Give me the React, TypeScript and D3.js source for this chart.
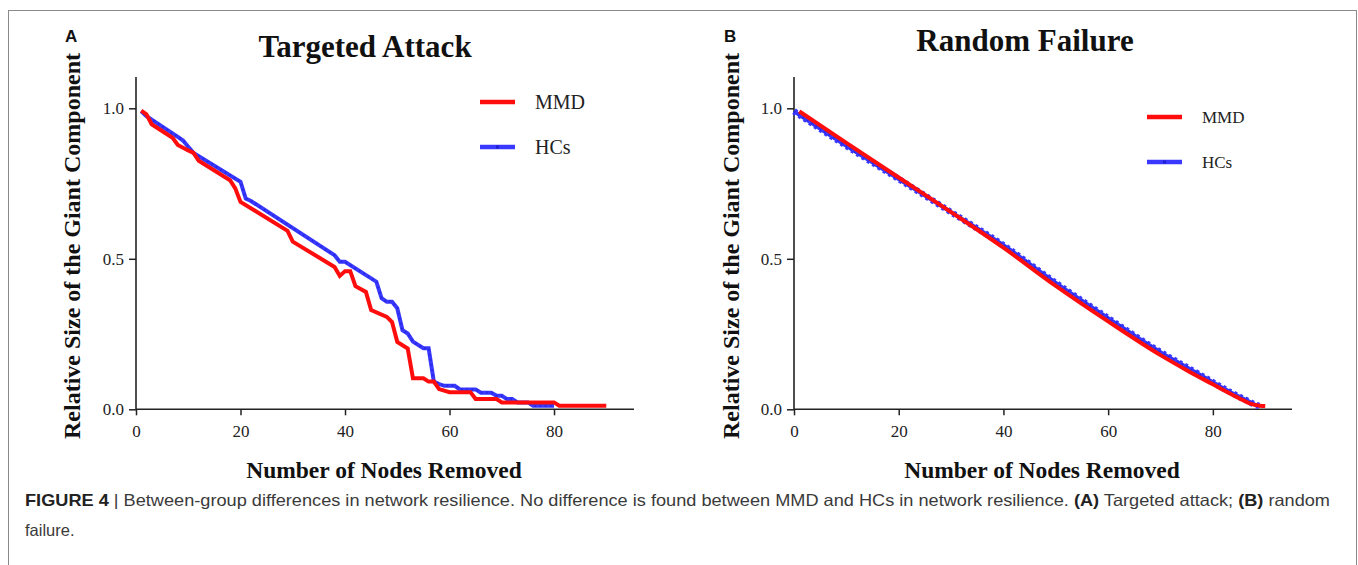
import React, { useEffect, useRef } from 'react';
import * as d3 from 'd3';

// ---------- data ----------
const xTicks = [0, 20, 40, 60, 80];
const yTicks = [0, 0.5, 1.0];
const seriesNames = ['MMD', 'HCs'];

// Panel A: Targeted Attack  [nodes removed, relative size]
const attackMMD: [number, number][] = [
  [1, 0.992], [2, 0.98], [3, 0.947], [7, 0.902], [8, 0.878], [10, 0.86], [11, 0.852], [12, 0.826],
  [18, 0.761], [19, 0.734], [20, 0.689], [29, 0.593], [30, 0.557], [38, 0.473], [39, 0.443],
  [40, 0.459], [41, 0.459], [42, 0.409], [44, 0.39], [45, 0.33], [48, 0.307], [49, 0.29],
  [50, 0.224], [52, 0.202], [53, 0.103], [55, 0.103], [56, 0.092], [57, 0.092], [58, 0.067],
  [60, 0.057], [64, 0.057], [65, 0.034], [69, 0.034], [70, 0.023], [80, 0.023], [81, 0.012], [90, 0.012],
];
const attackHCs: [number, number][] = [
  [1, 0.99], [2, 0.974], [8, 0.905], [9, 0.893], [10, 0.872], [11, 0.852], [20, 0.756], [21, 0.7],
  [22, 0.692], [38, 0.512], [39, 0.49], [40, 0.49], [46, 0.424], [47, 0.369], [48, 0.357],
  [49, 0.357], [50, 0.336], [51, 0.263], [52, 0.252], [53, 0.225], [55, 0.203], [56, 0.203],
  [57, 0.092], [58, 0.084], [59, 0.078], [61, 0.078], [62, 0.066], [65, 0.066], [66, 0.055],
  [68, 0.055], [69, 0.045], [70, 0.045], [71, 0.034], [72, 0.034], [73, 0.023], [75, 0.023],
  [76, 0.012], [80, 0.012],
];

// Panel B: Random Failure
const randomMMD: [number, number][] = [
  [1, 0.99], [10, 0.885], [20, 0.77], [30, 0.655], [40, 0.537], [50, 0.41], [60, 0.292],
  [70, 0.18], [75, 0.13], [80, 0.083], [83, 0.055], [85, 0.037], [87, 0.02], [89, 0.012], [90, 0.011],
];
const randomHCs: [number, number][] = [
  [0, 0.99], [10, 0.875], [20, 0.765], [30, 0.655], [40, 0.545], [50, 0.42], [60, 0.303],
  [70, 0.19], [75, 0.14], [80, 0.09], [83, 0.06], [85, 0.042], [87, 0.025], [88, 0.016], [89, 0.011],
];

const RED = '#ff0d0d';
const BLUE = '#3838ff';
const DARKBLUE = '#1f1fd0';
const SERIF = '"Liberation Serif", "Times New Roman", serif';
const SANS = '"Liberation Sans", Arial, sans-serif';

type Panel = {
  label: string; labelX: number;
  title: string; titleX: number; titleY: number;
  xRange: [number, number]; axisEnd: number;
  yLabelX: number; xLabelX: number;
  legendX: number; legendY: [number, number]; legendFont: number;
  mmd: [number, number][]; hcs: [number, number][];
  smooth: boolean;
};

const panels: Panel[] = [
  {
    label: 'A', labelX: 65, title: 'Targeted Attack', titleX: 365, titleY: 57,
    xRange: [136, 632.4], axisEnd: 634, yLabelX: 80, xLabelX: 384,
    legendX: 480, legendY: [102, 147], legendFont: 20,
    mmd: attackMMD, hcs: attackHCs, smooth: false,
  },
  {
    label: 'B', labelX: 724, title: 'Random Failure', titleX: 1025, titleY: 51,
    xRange: [794, 1291.4], axisEnd: 1292, yLabelX: 739, xLabelX: 1042,
    legendX: 1147, legendY: [117, 162], legendFont: 17,
    mmd: randomMMD, hcs: randomHCs, smooth: true,
  },
];

export default function App() {
  const ref = useRef<SVGSVGElement>(null);

  useEffect(() => {
    const svg = d3.select(ref.current);
    svg.selectAll('*').remove();

    svg.append('rect').attr('x', 0).attr('y', 0).attr('width', 1358).attr('height', 565).attr('fill', '#fff');
    svg.append('rect').attr('x', 8.5).attr('y', 10.5).attr('width', 1348).attr('height', 600)
      .attr('fill', 'none').attr('stroke', '#8a8a8a').attr('stroke-width', 1);

    panels.forEach((p) => {
      const g = svg.append('g');
      const x = d3.scaleLinear().domain([0, 95]).range(p.xRange);
      const y = d3.scaleLinear().domain([0, 1.1]).range([409.3, 78.2]);

      // y axis
      const ya = g.append('g').attr('transform', `translate(${p.xRange[0]},0)`)
        .call(d3.axisLeft(y).tickValues(yTicks).tickFormat(d3.format('.1f')).tickSize(7).tickSizeOuter(0).tickPadding(5));
      ya.select('.domain').attr('stroke', '#222').attr('stroke-width', 1.6).attr('d', `M0,${y(0)}V77`);
      ya.selectAll('.tick line').attr('stroke', '#222').attr('stroke-width', 1.5);
      ya.selectAll('.tick text').attr('font-family', SERIF).attr('font-size', 17).attr('fill', '#222');

      // x axis
      const xa = g.append('g').attr('transform', `translate(0,${y(0)})`)
        .call(d3.axisBottom(x).tickValues(xTicks).tickFormat(d3.format('d')).tickSize(6).tickSizeOuter(0).tickPadding(10));
      xa.select('.domain').attr('stroke', '#222').attr('stroke-width', 1.6).attr('d', `M${p.xRange[0]},0H${p.axisEnd}`);
      xa.selectAll('.tick line').attr('stroke', '#222').attr('stroke-width', 1.5);
      xa.selectAll('.tick text').attr('font-family', SERIF).attr('font-size', 17).attr('fill', '#222');

      // lines
      const line = d3.line<[number, number]>().x((d) => x(d[0])).y((d) => y(d[1]))
        .curve(p.smooth ? d3.curveMonotoneX : d3.curveLinear);

      if (p.smooth) {
        g.append('path').attr('d', line(p.hcs)).attr('fill', 'none').attr('stroke', BLUE)
          .attr('stroke-width', 6.5).attr('stroke-dasharray', '3 3.3');
      }
      g.append('path').attr('d', line(p.hcs)).attr('fill', 'none').attr('stroke', BLUE).attr('stroke-width', 4);
      g.append('path').attr('d', line(p.hcs)).attr('fill', 'none').attr('stroke', DARKBLUE)
        .attr('stroke-width', 2.5).attr('stroke-dasharray', '1.6 3.6').attr('opacity', 0.6);
      g.append('path').attr('d', line(p.mmd)).attr('fill', 'none').attr('stroke', RED).attr('stroke-width', 4);

      // legend
      seriesNames.forEach((name, i) => {
        const ly = p.legendY[i];
        const color = i === 0 ? RED : BLUE;
        g.append('line').attr('x1', p.legendX).attr('x2', p.legendX + 35).attr('y1', ly).attr('y2', ly)
          .attr('stroke', color).attr('stroke-width', 4.5);
        if (i === 1) {
          g.append('rect').attr('x', p.legendX + 16).attr('y', ly - 1.5).attr('width', 3).attr('height', 3).attr('fill', DARKBLUE);
        }
        g.append('text').attr('x', p.legendX + 55).attr('y', ly).attr('dy', '0.35em')
          .attr('font-family', SERIF).attr('font-size', p.legendFont).attr('fill', '#222').text(name);
      });

      // title
      g.append('text').attr('x', p.titleX).attr('y', p.titleY).attr('text-anchor', 'middle')
        .attr('font-family', SERIF).attr('font-weight', 'bold').attr('font-size', 31).attr('fill', '#111').text(p.title);

      // panel label
      g.append('text').attr('x', p.labelX).attr('y', 42)
        .attr('font-family', SANS).attr('font-weight', 'bold').attr('font-size', 17).attr('fill', '#111').text(p.label);

      // axis titles
      g.append('text').attr('transform', `translate(${p.yLabelX},246) rotate(-90)`).attr('text-anchor', 'middle')
        .attr('font-family', SERIF).attr('font-weight', 'bold').attr('font-size', 24).attr('fill', '#111')
        .text('Relative Size of the Giant Component');
      g.append('text').attr('x', p.xLabelX).attr('y', 478).attr('text-anchor', 'middle')
        .attr('font-family', SERIF).attr('font-weight', 'bold').attr('font-size', 23.5).attr('fill', '#111')
        .text('Number of Nodes Removed');
    });

    // caption
    const cap = svg.append('text').attr('x', 25).attr('y', 506).attr('font-family', SANS).attr('font-size', 16.5)
      .attr('fill', '#3a3a3a').attr('textLength', 1305).attr('lengthAdjust', 'spacingAndGlyphs');
    cap.append('tspan').attr('font-weight', 'bold').attr('fill', '#222').text('FIGURE 4 ');
    cap.append('tspan').text('| Between-group differences in network resilience. No difference is found between MMD and HCs in network resilience. ');
    cap.append('tspan').attr('font-weight', 'bold').attr('fill', '#222').text('(A)');
    cap.append('tspan').text(' Targeted attack; ');
    cap.append('tspan').attr('font-weight', 'bold').attr('fill', '#222').text('(B)');
    cap.append('tspan').text(' random');
    svg.append('text').attr('x', 25).attr('y', 536).attr('font-family', SANS).attr('font-size', 16.5)
      .attr('fill', '#3a3a3a').text('failure.');
  }, []);

  return (
    <svg ref={ref} width={1358} height={565}
      style={{ position: 'absolute', left: 0, top: 0, display: 'block' }} />
  );
}
